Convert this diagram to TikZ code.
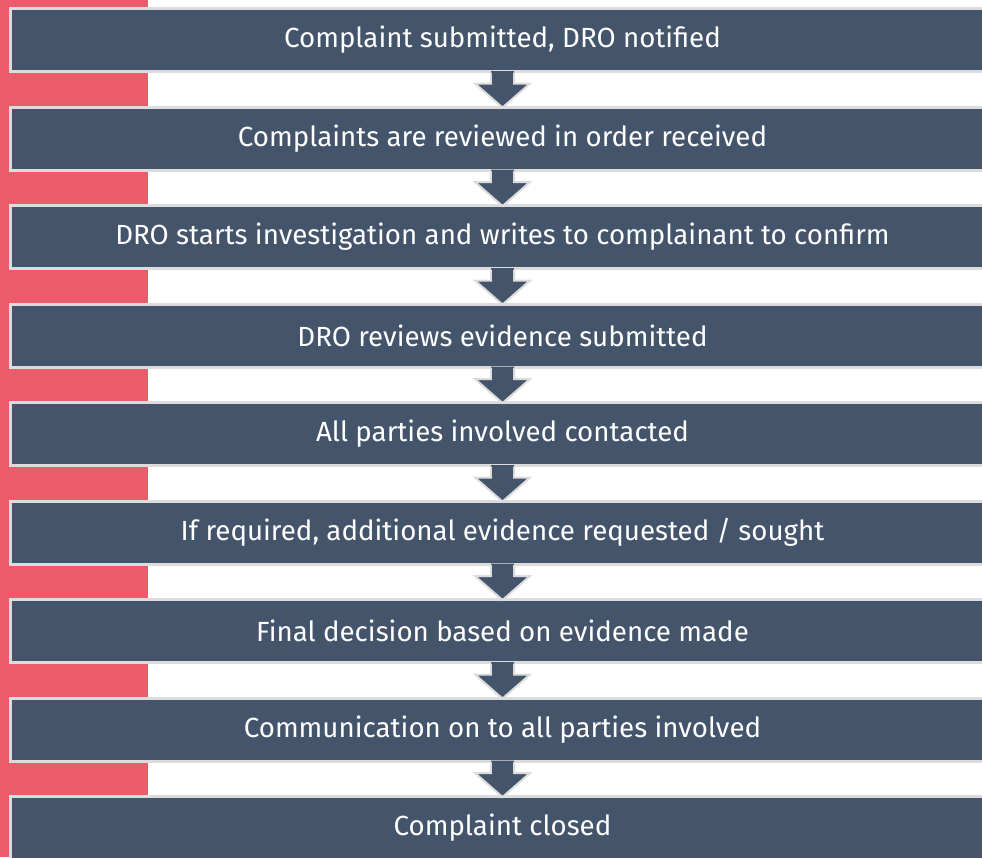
\documentclass[tikz,border=0pt]{standalone}
\usepackage{fontspec}
\setmainfont{Fira Sans}
\usetikzlibrary{calc}
\definecolor{stripred}{HTML}{EC5B6A}
\definecolor{slate}{HTML}{44546A}
\definecolor{edgegray}{HTML}{DCDCDC}
\begin{document}
\begin{tikzpicture}[x=1pt,y=-1pt,
  stepbox/.style={draw=edgegray, fill=slate, line width=3pt,
    minimum width=984pt, minimum height=63pt, inner sep=0pt,
    text=white, font=\fontsize{27.7}{32}\selectfont},
  flowarrow/.style={fill=slate, draw=edgegray, line width=2pt, line join=miter}]
\useasboundingbox (0,0) rectangle (982,857);
\begin{scope}
\clip (0,0) rectangle (982,857);
% accent strip on the left
\fill[stripred] (0,0) rectangle (148,857);
% process steps
\foreach \i/\t in {1/{Complaint submitted, DRO notified},
                   2/{Complaints are reviewed in order received},
                   3/{DRO starts investigation and writes to complainant to confirm},
                   4/{DRO reviews evidence submitted},
                   5/{All parties involved contacted},
                   6/{If required, additional evidence requested / sought},
                   7/{Final decision based on evidence made},
                   8/{Communication on to all parties involved},
                   9/{Complaint closed}}
  \node[stepbox] (b\i) at (502.5,{40+98.5*(\i-1)}) {\t};
% down arrows linking consecutive steps
\foreach \i [evaluate=\i as \j using int(\i+1)] in {1,...,8} {
  \coordinate (s\i) at (b\i.south);
  \fill[slate] ($(s\i)+(-11.5,-2)$) -- ($(s\i)+(-11.5,10.5)$) -- ($(s\i)+(-27.5,10.5)$)
    -- ($(b\j.north)+(0,2)$) -- ($(s\i)+(27.5,10.5)$) -- ($(s\i)+(11.5,10.5)$)
    -- ($(s\i)+(11.5,-2)$) -- cycle;
  \draw[flowarrow, fill=none] ($(s\i)+(-11.5,-0.5)$) -- ($(s\i)+(-11.5,10.5)$) -- ($(s\i)+(-27.5,10.5)$)
    -- ($(b\j.north)+(0,2)$) -- ($(s\i)+(27.5,10.5)$) -- ($(s\i)+(11.5,10.5)$)
    -- ($(s\i)+(11.5,-0.5)$);
  \fill[slate] ($(s\i)+(-10.5,-2)$) rectangle ($(s\i)+(10.5,10)$);
}
\end{scope}
\end{tikzpicture}
\end{document}
